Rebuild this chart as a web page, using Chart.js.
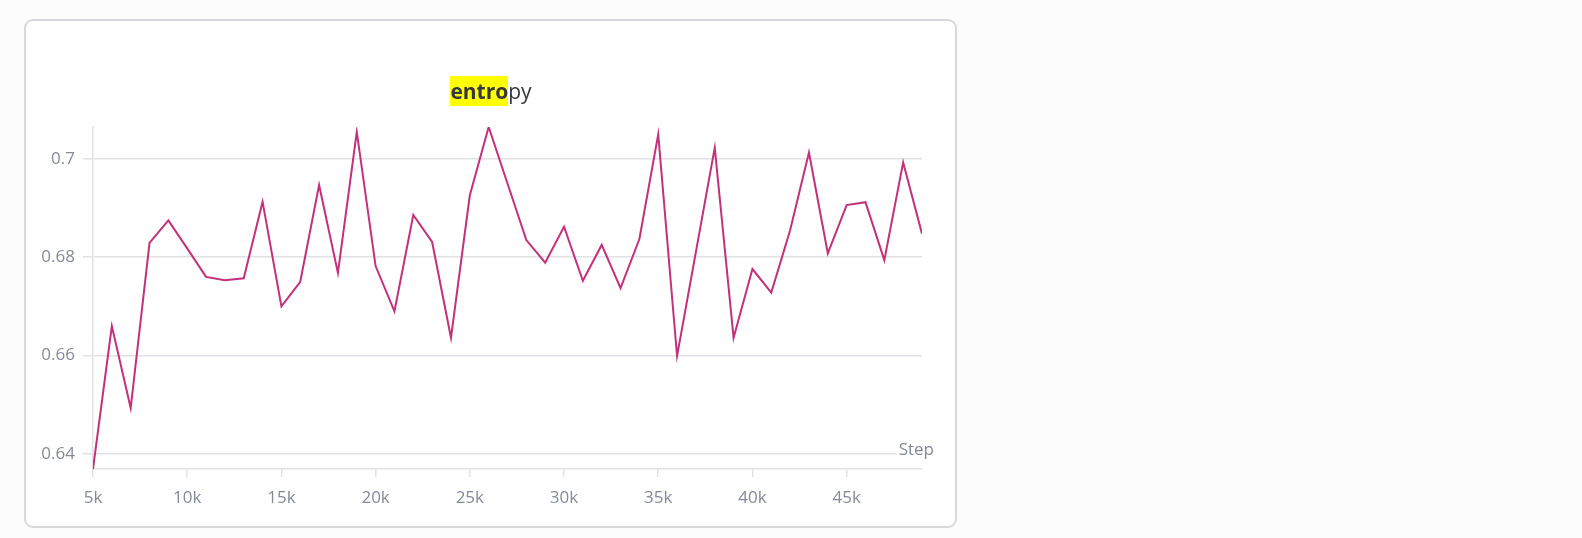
<!DOCTYPE html>
<html>
<head>
<meta charset="utf-8">
<script src="https://cdn.jsdelivr.net/npm/chart.js@4/dist/chart.umd.min.js"></script>
<style>
  html, body { margin: 0; padding: 0; background: #fcfcfc; width: 1582px; height: 538px; overflow: hidden; }
  #card { position: absolute; left: 24px; top: 19px; width: 933px; height: 509px; box-sizing: border-box;
          border: 2px solid #d8d8dd; border-radius: 9px; background: #ffffff; }
  #title { position: absolute; left: 0; width: 982px; top: 76px; text-align: center; font-family: "Open Sans", sans-serif;
           font-size: 21px; line-height: 30px; color: #34373f; z-index: 2; white-space: nowrap; }
  #title .hl { background: #ffff00; font-weight: 700; display: inline-block; line-height: 30px; height: 30px; }
  #c { position: absolute; left: 0; top: 0; z-index: 1; }
</style>
</head>
<body>
<div id="card"></div>
<div id="title"><span class="hl">entro</span>py</div>
<canvas id="c" width="1582" height="538"></canvas>
<script>
const steps = [5000, 6000, 7000, 8000, 9000, 10000, 11000, 12000, 13000, 14000,
               15000, 16000, 17000, 18000, 19000, 20000, 21000, 22000, 23000, 24000,
               25000, 26000, 27000, 28000, 29000, 30000, 31000, 32000, 33000, 34000,
               35000, 36000, 37000, 38000, 39000, 40000, 41000, 42000, 43000, 44000,
               45000, 46000, 47000, 48000, 49000];
const entropy = [0.6369, 0.6660, 0.6493, 0.6829, 0.6875, 0.6818, 0.6760, 0.6753, 0.6757, 0.6913,
                 0.6700, 0.6750, 0.6947, 0.6768, 0.7055, 0.6782, 0.6690, 0.6886, 0.6831, 0.6636,
                 0.6926, 0.7065, 0.6950, 0.6835, 0.6789, 0.6862, 0.6752, 0.6825, 0.6737, 0.6837,
                 0.7050, 0.6599, 0.6811, 0.7023, 0.6636, 0.6776, 0.6728, 0.6855, 0.7013, 0.6808,
                 0.6906, 0.6912, 0.6794, 0.6993, 0.6848];
const xTickValues = [5000, 10000, 15000, 20000, 25000, 30000, 35000, 40000, 45000];
const xTickLabels = ["5k", "10k", "15k", "20k", "25k", "30k", "35k", "40k", "45k"];
const yTickValues = [0.64, 0.66, 0.68, 0.70];
const yTickLabels = ["0.64", "0.66", "0.68", "0.7"];
const xAxisTitle = "Step";

const points = steps.map((s, i) => ({ x: s, y: entropy[i] }));
const tickFont = { family: "'Open Sans', sans-serif", size: 17 };
const tickColor = "#858a98";
const gridColor = "#e1e1e6";

const stepLabel = {
  id: "stepLabel",
  afterDraw(chart) {
    const ctx = chart.ctx;
    const area = chart.chartArea;
    ctx.save();
    ctx.font = "17px 'Open Sans', sans-serif";
    const w = ctx.measureText(xAxisTitle).width;
    const right = area.right + 12;
    const base = area.bottom - 14;
    ctx.fillStyle = "#ffffff";
    ctx.fillRect(right - w - 2, base - 14, w + 4, 20);
    ctx.fillStyle = tickColor;
    ctx.textAlign = "right";
    ctx.textBaseline = "alphabetic";
    ctx.fillText(xAxisTitle, right, base);
    ctx.restore();
  }
};

new Chart(document.getElementById("c"), {
  type: "line",
  data: {
    datasets: [{
      data: points,
      borderColor: "#c4307a",
      borderWidth: 2,
      pointRadius: 0,
      tension: 0,
      fill: false
    }]
  },
  options: {
    responsive: false,
    animation: false,
    events: [],
    layout: { padding: { left: 0, top: 127, right: 660, bottom: 0 } },
    plugins: { legend: { display: false }, tooltip: { enabled: false }, title: { display: false } },
    scales: {
      x: {
        type: "linear",
        min: steps[0],
        max: steps[steps.length - 1],
        afterBuildTicks: (s) => { s.ticks = xTickValues.map(v => ({ value: v })); },
        afterFit: (s) => { s.height = 69; },
        ticks: {
          autoSkip: false, maxRotation: 0, padding: 11,
          color: tickColor, font: tickFont,
          callback: (v) => { const i = xTickValues.indexOf(v); return i >= 0 ? xTickLabels[i] : ""; }
        },
        grid: { drawOnChartArea: false, drawTicks: true, tickLength: 8, color: gridColor, lineWidth: 1.5 },
        border: { display: true, color: gridColor, width: 1.5 }
      },
      y: {
        min: Math.min(...entropy),
        max: Math.max(...entropy),
        afterBuildTicks: (s) => { s.ticks = yTickValues.map(v => ({ value: v })); },
        afterFit: (s) => { s.width = 93; },
        ticks: {
          padding: 8, color: tickColor, font: tickFont,
          callback: (v) => { const i = yTickValues.findIndex(t => Math.abs(t - v) < 1e-9); return i >= 0 ? yTickLabels[i] : ""; }
        },
        grid: { drawOnChartArea: true, drawTicks: true, tickLength: 10, color: gridColor, lineWidth: 1.5 },
        border: { display: true, color: gridColor, width: 1.5 }
      }
    }
  },
  plugins: [stepLabel]
});
</script>
</body>
</html>
